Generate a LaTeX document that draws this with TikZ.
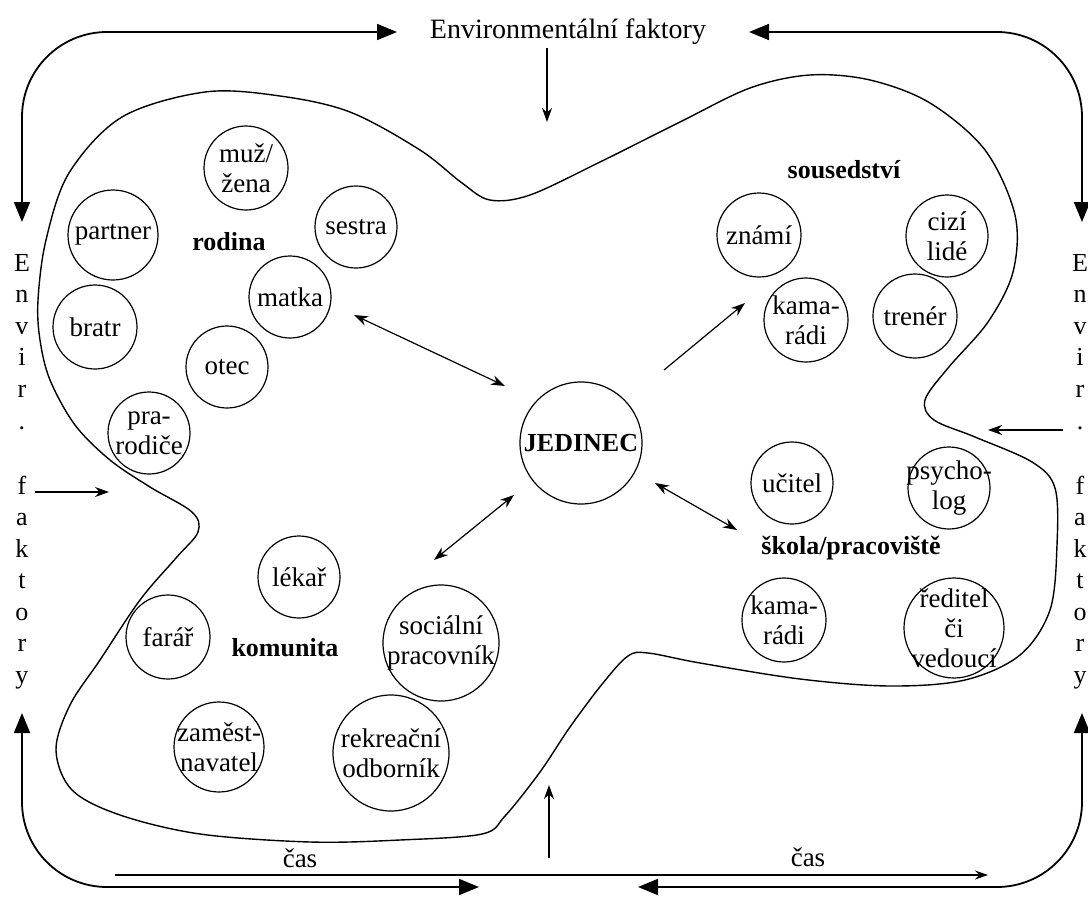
\documentclass[tikz,border=0pt]{standalone}
\usepackage{fontspec}
\setmainfont{Liberation Serif}
\usetikzlibrary{arrows.meta}
\newcommand\circnode[4]{\node[circ,minimum size=#3pt] (#1) at (#2) {};\node[ctext] (#1t) at (#1) {#4};}
\begin{document}
\begin{tikzpicture}[x=1pt,y=-1pt,
  circ/.style={draw, circle, line width=1.2pt, inner sep=0pt},
  ctext/.style={align=center, inner sep=0pt, font=\fontsize{27}{30}\selectfont},
  lab/.style={inner sep=0pt, font=\fontsize{26}{30}\selectfont\bfseries},
  side/.style={inner sep=0pt, anchor=base, font=\fontsize{26}{30}\selectfont},
  envarrow/.style={line width=1.8pt, rounded corners=85pt, {Triangle[length=20pt,width=16pt]}-{Triangle[length=20pt,width=16pt]}},
  inarr/.style={line width=1.2pt, -{Stealth[length=14pt,width=10pt]}},
  dbl/.style={line width=1.2pt, {Stealth[length=14pt,width=10pt]}-{Stealth[length=14pt,width=10pt]}},
  timearr/.style={line width=1.2pt, -{Stealth[length=13pt,width=9pt]}},
  blob/.style={line width=1.4pt}
]
\useasboundingbox (0,0) rectangle (1088,900);

% title
\node[anchor=base, inner sep=0pt, font=\fontsize{28}{30}\selectfont] (title) at (568,38) {Environmentální faktory};

% blob
\draw[blob] plot[smooth cycle, tension=0.55] coordinates {
(38,300) (46,240) (69,173) (122,117) (205,92) (280,96) (350,112) (420,150)
(462,183) (490,200) (530,195) (600,162) (680,122) (750,88) (810,75) (870,80)
(930,103) (985,150) (1015,215) (1013,272) (988,322) (948,368) (925,400)
(934,420) (975,437) (1032,462) (1055,488) (1057,545) (1050,610) (1020,655)
(965,680) (890,686) (800,679) (700,663) (648,653) (628,656) (603,683)
(570,727) (540,772) (505,816) (482,834) (400,840) (310,842) (200,834)
(120,815) (72,790) (56,750) (70,705) (100,660) (140,600) (176,558)
(198,532) (192,512) (150,487) (110,460) (75,425) (50,380) (40,340)};

% circles
\circnode{muz}{246,168}{84}{muž/\\žena}
\circnode{partner}{113,235}{90}{partner}
\circnode{sestra}{356,227}{82}{sestra}
\circnode{matka}{290,297}{82}{matka}
\circnode{bratr}{95,327}{84}{bratr}
\circnode{otec}{227,367}{82}{otec}
\circnode{prarod}{149,433}{82}{pra-\\rodiče}
\circnode{znami}{759,235}{84}{známí}
\circnode{cizi}{947,236}{82}{cizí\\lidé}
\circnode{kamA}{806,320}{84}{kama-\\rádi}
\circnode{trener}{915,316}{84}{trenér}
\circnode{ucitel}{792,483}{82}{učitel}
\circnode{psych}{949,488}{82}{psycho-\\log}
\circnode{kamB}{784,620}{84}{kama-\\rádi}
\circnode{reditel}{954,628}{100}{ředitel\\či\\vedoucí}
\circnode{lekar}{299,577}{82}{lékař}
\circnode{farar}{168,637}{84}{farář}
\circnode{soc}{441,643}{116}{sociální\\pracovník}
\circnode{zam}{219,747}{90}{zaměst-\\navatel}
\circnode{rek}{391,753}{116}{rekreační\\odborník}
\node[circ,minimum size=122pt] (jed) at (581,443) {};
\node[lab] (jedt) at (jed) {JEDINEC};

% group labels
\node[lab] (rodina) at (229,242) {rodina};
\node[lab] (sous) at (844,170) {sousedství};
\node[lab] (skola) at (851,548) {škola/pracoviště};
\node[lab] (komun) at (285,648) {komunita};

% inner arrows
\coordinate (a1) at (354,315); \coordinate (a2) at (505,386);
\coordinate (b1) at (664,370); \coordinate (b2) at (745,303);
\coordinate (c1) at (655,483); \coordinate (c2) at (737,530);
\coordinate (d1) at (514,495); \coordinate (d2) at (434,560);
\draw[dbl] (a1) -- (a2);
\draw[inarr] (b1) -- (b2);
\draw[dbl] (c1) -- (c2);
\draw[dbl] (d1) -- (d2);

% environmental input arrows
\coordinate (t1) at (547,48); \coordinate (t2) at (547,122);
\coordinate (l1) at (35,492); \coordinate (l2) at (109,492);
\coordinate (r1) at (1063,430); \coordinate (r2) at (988,430);
\coordinate (u1) at (549,858); \coordinate (u2) at (549,785);
\draw[inarr] (t1) -- (t2);
\draw[inarr] (l1) -- (l2);
\draw[inarr] (r1) -- (r2);
\draw[inarr] (u1) -- (u2);

% frame arrows
\coordinate (tl1) at (22,222); \coordinate (tl2) at (397,32);
\coordinate (tr1) at (749,32); \coordinate (tr2) at (1082,222);
\coordinate (bl1) at (22,713); \coordinate (bl2) at (479,887);
\coordinate (br1) at (638,887); \coordinate (br2) at (1082,713);
\draw[envarrow] (tl1) -- (22,32) -- (tl2);
\draw[envarrow] (tr1) -- (1082,32) -- (tr2);
\draw[envarrow] (bl1) -- (22,887) -- (bl2);
\draw[envarrow] (br1) -- (1082,887) -- (br2);

% time
\coordinate (c0) at (115,875); \coordinate (cE) at (988,875);
\draw[timearr] (c0) -- (cE);
\node[anchor=base, inner sep=0pt, font=\fontsize{27}{30}\selectfont] (cas1) at (300,867) {čas};
\node[anchor=base, inner sep=0pt, font=\fontsize{27}{30}\selectfont] (cas2) at (808,866) {čas};

% side letters
\foreach \l/\yy [count=\i] in {E/271, n/302, v/334, i/365, r/397, ./429, f/494, a/525, k/557, t/588, o/620, r/651, y/683}{
  \node[side] (L\i) at (22,\yy) {\l};
  \node[side] (R\i) at (1080,\yy) {\l};
}
\end{tikzpicture}
\end{document}
